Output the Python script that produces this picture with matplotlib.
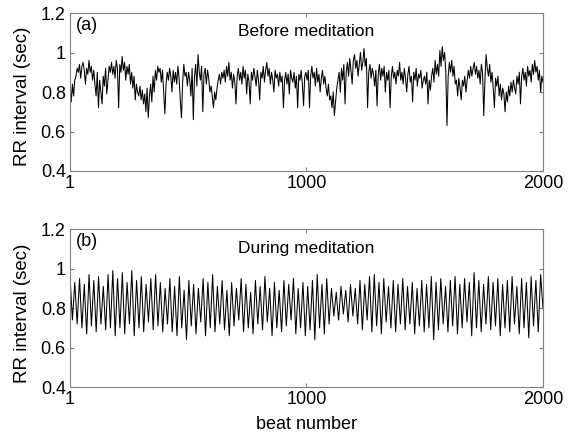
import numpy as np
import matplotlib
matplotlib.use("Agg")
import matplotlib.pyplot as plt

plt.rcParams['font.family'] = ['Liberation Sans', 'DejaVu Sans']

rr_before = [
    0.82, 0.75, 0.84, 0.78, 0.86, 0.88, 0.92, 0.90, 0.94, 0.87, 0.93, 0.95, 0.91, 0.84, 0.92, 0.89, 0.96, 0.90, 0.93, 0.86,
    0.91, 0.84, 0.78, 0.90, 0.72, 0.86, 0.80, 0.74, 0.88, 0.83, 0.92, 0.79, 0.86, 0.93, 0.90, 0.95, 0.89, 0.93, 0.87, 0.96,
    0.92, 0.72, 0.94, 0.90, 0.98, 0.91, 0.95, 0.86, 0.93, 0.89, 0.94, 0.84, 0.90, 0.82, 0.88, 0.76, 0.84, 0.80, 0.78, 0.83,
    0.76, 0.81, 0.74, 0.79, 0.70, 0.82, 0.67, 0.78, 0.84, 0.75, 0.88, 0.80, 0.91, 0.86, 0.93, 0.90, 0.92, 0.85, 0.91, 0.80,
    0.69, 0.84, 0.90, 0.86, 0.92, 0.88, 0.80, 0.91, 0.85, 0.90, 0.84, 0.93, 0.87, 0.76, 0.67, 0.85, 0.94, 0.88, 0.90, 0.83,
    0.90, 0.86, 0.78, 0.92, 0.66, 0.88, 0.94, 0.83, 0.99, 0.90, 0.86, 0.93, 0.70, 0.89, 0.92, 0.84, 0.91, 0.87, 0.80, 0.83,
    0.78, 0.72, 0.80, 0.76, 0.82, 0.86, 0.89, 0.84, 0.90, 0.87, 0.91, 0.85, 0.93, 0.88, 0.95, 0.86, 0.90, 0.82, 0.89, 0.85,
    0.74, 0.88, 0.92, 0.86, 0.90, 0.84, 0.93, 0.87, 0.91, 0.79, 0.89, 0.85, 0.74, 0.90, 0.86, 0.92, 0.88, 0.83, 0.91, 0.86,
    0.76, 0.90, 0.87, 0.93, 0.85, 0.91, 0.95, 0.88, 0.92, 0.84, 0.90, 0.86, 0.80, 0.91, 0.87, 0.89, 0.83, 0.90, 0.85, 0.88,
    0.72, 0.86, 0.90, 0.84, 0.89, 0.79, 0.91, 0.87, 0.85, 0.90, 0.82, 0.88, 0.72, 0.89, 0.86, 0.91, 0.84, 0.73, 0.88, 0.90,
    0.86, 0.91, 0.72, 0.88, 0.93, 0.87, 0.90, 0.83, 0.92, 0.85, 0.89, 0.80, 0.87, 0.91, 0.84, 0.88, 0.82, 0.78, 0.84, 0.76,
    0.78, 0.72, 0.80, 0.68, 0.75, 0.82, 0.86, 0.90, 0.80, 0.92, 0.86, 0.94, 0.74, 0.90, 0.95, 0.88, 0.97, 0.91, 0.84, 0.96,
    0.99, 0.92, 0.96, 0.88, 0.94, 1.00, 0.91, 0.95, 1.02, 0.93, 0.97, 0.72, 0.90, 0.94, 0.87, 0.92, 0.89, 0.83, 0.91, 0.73,
    0.89, 0.94, 0.86, 0.92, 0.88, 0.93, 0.80, 0.90, 0.86, 0.91, 0.72, 0.88, 0.93, 0.87, 0.90, 0.84, 0.91, 0.88, 0.95, 0.86,
    0.90, 0.84, 0.92, 0.87, 0.80, 0.89, 0.93, 0.85, 0.88, 0.75, 0.90, 0.86, 0.92, 0.83, 0.89, 0.87, 0.91, 0.82, 0.86, 0.88,
    0.84, 0.90, 0.74, 0.86, 0.81, 0.88, 0.92, 0.85, 0.96, 0.89, 0.94, 0.88, 1.01, 0.93, 1.03, 0.96, 1.00, 0.90, 0.63, 0.88,
    0.95, 0.90, 0.96, 0.88, 0.93, 0.84, 0.86, 0.78, 0.87, 0.82, 0.76, 0.86, 0.83, 0.88, 0.80, 0.86, 0.91, 0.87, 0.93, 0.88,
    0.92, 0.95, 0.89, 0.93, 0.87, 0.91, 0.84, 0.94, 0.90, 0.68, 0.86, 0.99, 0.92, 0.88, 0.94, 0.85, 0.90, 0.82, 0.72, 0.87,
    0.83, 0.88, 0.78, 0.84, 0.76, 0.82, 0.79, 0.70, 0.80, 0.75, 0.83, 0.78, 0.85, 0.80, 0.86, 0.82, 0.79, 0.88, 0.84, 0.90,
    0.74, 0.88, 0.92, 0.86, 0.90, 0.83, 0.93, 0.88, 0.91, 0.85, 0.94, 0.89, 0.96, 0.90, 0.93, 0.86, 0.91, 0.80, 0.88, 0.85,
]

# RR intervals during meditation, peaks and troughs every 10 beats
rr_during = [
    0.96, 0.74, 0.93, 0.72, 0.95, 0.70, 0.92, 0.67, 0.97, 0.71, 0.94, 0.68, 0.96, 0.72, 0.91, 0.69, 0.97, 0.70, 0.99, 0.66,
    0.95, 0.70, 0.98, 0.67, 0.93, 0.72, 0.99, 0.66, 0.94, 0.70, 0.96, 0.68, 0.92, 0.73, 0.95, 0.69, 0.97, 0.71, 0.93, 0.68,
    0.90, 0.72, 0.95, 0.68, 0.91, 0.66, 0.96, 0.70, 0.89, 0.64, 0.94, 0.71, 0.92, 0.67, 0.90, 0.73, 0.95, 0.66, 0.93, 0.70,
    0.97, 0.68, 0.91, 0.72, 0.94, 0.69, 0.89, 0.66, 0.93, 0.71, 0.90, 0.74, 0.95, 0.68, 0.92, 0.70, 0.88, 0.67, 0.94, 0.72,
    0.91, 0.69, 0.96, 0.73, 0.90, 0.66, 0.93, 0.70, 0.89, 0.68, 0.94, 0.71, 0.92, 0.74, 0.95, 0.67, 0.90, 0.70, 0.93, 0.66,
    0.91, 0.69, 0.94, 0.64, 0.97, 0.70, 0.92, 0.67, 0.95, 0.72, 0.90, 0.76, 0.88, 0.74, 0.91, 0.77, 0.89, 0.73, 0.92, 0.76,
    0.90, 0.72, 0.94, 0.69, 0.92, 0.74, 0.96, 0.68, 0.97, 0.71, 0.93, 0.67, 0.95, 0.73, 0.91, 0.70, 0.94, 0.68, 0.92, 0.72,
    0.95, 0.69, 0.91, 0.72, 0.93, 0.67, 0.90, 0.71, 0.94, 0.68, 0.92, 0.70, 0.96, 0.64, 0.93, 0.69, 0.95, 0.72, 0.91, 0.68,
    0.94, 0.71, 0.96, 0.67, 0.92, 0.70, 0.95, 0.73, 0.93, 0.66, 0.98, 0.70, 0.94, 0.68, 0.92, 0.72, 0.96, 0.69, 0.93, 0.71,
    0.95, 0.66, 0.92, 0.70, 0.94, 0.68, 0.96, 0.72, 0.91, 0.67, 0.95, 0.70, 0.93, 0.65, 0.96, 0.71, 0.94, 0.68, 0.97, 0.80,
]

beats_before = np.linspace(1, 2000, len(rr_before))
beats_during = np.linspace(1, 2000, len(rr_during))

panels = [
    (beats_before, rr_before, "(a)", "Before meditation"),
    (beats_during, rr_during, "(b)", "During meditation"),
]

fig = plt.figure(figsize=(5.74, 4.34), dpi=100)
ax_a = fig.add_axes([0.122, 0.606, 0.824, 0.364])
ax_b = fig.add_axes([0.122, 0.108, 0.824, 0.364])

for ax, (x, y, tag, title) in zip([ax_a, ax_b], panels):
    ax.plot(x, y, color='black', linewidth=0.75)
    ax.set_xlim(1, 2000)
    ax.set_ylim(0.4, 1.2)
    ax.set_xticks([1, 1000, 2000])
    ax.set_xticklabels(["1", "1000", "2000"])
    ax.set_yticks([0.4, 0.6, 0.8, 1.0, 1.2])
    ax.set_yticklabels(["0.4", "0.6", "0.8", "1", "1.2"])
    ax.tick_params(direction='in', top=True, right=True, labelsize=13,
                   length=3, color='#808080', pad=3)
    for s in ax.spines.values():
        s.set_color('#808080')
        s.set_linewidth(0.8)
    ax.set_ylabel("RR interval (sec)", fontsize=13.5)
    ax.yaxis.set_label_coords(-0.082, 0.47)
    ax.text(0.012, 0.975, tag, transform=ax.transAxes, fontsize=13, va='top', ha='left')
    ax.text(0.5, 0.88, title, transform=ax.transAxes, fontsize=12.5, va='center', ha='center')

ax_b.set_xlabel("beat number", fontsize=13)
ax_b.xaxis.set_label_coords(0.5, -0.185)

fig.savefig("out.png", dpi=100)
